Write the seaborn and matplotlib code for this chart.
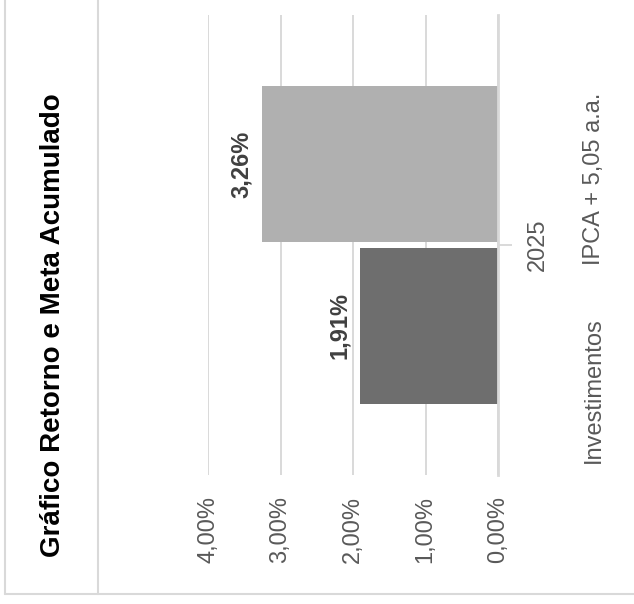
import pandas as pd
import numpy as np
import matplotlib.pyplot as plt
import seaborn as sns
from matplotlib.lines import Line2D

# ================================
# Data
# ================================
years = ["2025"]
series = ["IPCA + 5,05 a.a.", "Investimentos"]
ipca_vals = [3.26]
invest_vals = [1.91]
value_ticks = [0, 1, 2, 3, 4]
title = "Gráfico Retorno e Meta Acumulado"

df = pd.DataFrame({
    "ano": years * 2,
    "serie": [series[0]] * len(years) + [series[1]] * len(years),
    "valor": ipca_vals + invest_vals,
})

# ================================
# Style
# ================================
sns.set_style("white")
plt.rcParams["font.family"] = ["Liberation Sans", "DejaVu Sans"]

grid_c = "#D9D9D9"
txt_c = "#595959"
fs = 17
colors = {series[0]: "#B0B0B0", series[1]: "#6E6E6E"}

fig = plt.figure(figsize=(6.34, 6.04), dpi=100)
W, H = 634, 604
ax = fig.add_axes([208 / W, 1 - 475 / H, (498 - 208) / W, 460 / H])

sns.barplot(data=df, x="valor", y="ano", hue="serie", hue_order=series,
            palette=colors, orient="h", width=0.8, gap=0.031,
            legend=False, ax=ax, linewidth=0)

ax.set_xlim(4, 0)
ax.set_ylim(0.568, -0.568)
ax.set_xticks(value_ticks)
ax.set_xticklabels([f"{v:.2f}%".replace(".", ",") for v in value_ticks],
                   rotation=90, fontsize=fs, color=txt_c, va="top")
ax.tick_params(axis="x", length=0, pad=15)
ax.grid(axis="x", color=grid_c, linewidth=1.4)
ax.set_axisbelow(True)

ax.yaxis.tick_right()
ax.set_yticklabels(years, rotation=90, fontsize=fs, color=txt_c, va="center")
ax.tick_params(axis="y", length=10, width=1.4, color=grid_c, pad=11)

for s in ["top", "left", "bottom"]:
    ax.spines[s].set_visible(False)
ax.spines["right"].set_color(grid_c)
ax.spines["right"].set_linewidth(2)
ax.set_xlabel("")
ax.set_ylabel("")

# value labels
for cont in ax.containers:
    for bar in cont:
        v = bar.get_width()
        yc = bar.get_y() + bar.get_height() / 2
        ax.annotate(f"{v:.2f}%".replace(".", ","), xy=(v, yc), xytext=(-6, 0),
                    textcoords="offset points", rotation=90, ha="right",
                    va="center", fontsize=fs, fontweight="bold", color="#404040")

# legend as rotated text
fig.text(594 / W, 1 - 265 / H, series[0], rotation=90, ha="center", va="bottom",
         fontsize=fs, color=txt_c)
fig.text(594 / W, 1 - 463 / H, series[1], rotation=90, ha="center", va="bottom",
         fontsize=fs, color=txt_c)

# title
fig.text(53 / W, 1 - 325.5 / H, title, rotation=90, ha="center", va="center",
         fontsize=20, fontweight="bold", color="black")

# frame lines
fig.add_artist(Line2D([5 / W, 5 / W], [1 - 594 / H, 1], color=grid_c, lw=1.5))
fig.add_artist(Line2D([98 / W, 98 / W], [1 - 594 / H, 1], color=grid_c, lw=1.5))
fig.add_artist(Line2D([5 / W, 1], [1 - 594 / H, 1 - 594 / H], color=grid_c, lw=1.5))

fig.savefig("out.png", dpi=100)
